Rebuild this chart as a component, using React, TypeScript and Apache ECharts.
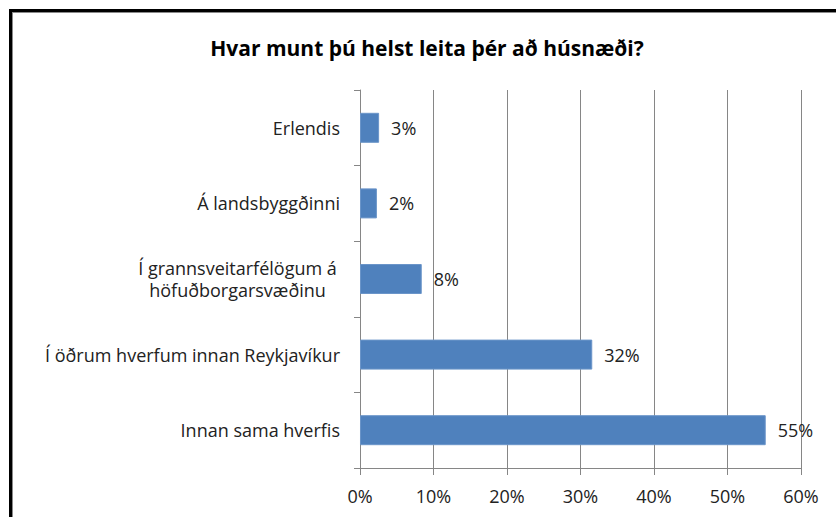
import React, { useEffect, useRef } from "react";
import * as echarts from "echarts";

const titleText = "Hvar munt þú helst leita þér að húsnæði?";
const categories = [
  "Erlendis",
  "Á landsbyggðinni",
  "Í grannsveitarfélögum á\nhöfuðborgarsvæðinu",
  "Í öðrum hverfum innan Reykjavíkur",
  "Innan sama hverfis",
];
const values = [2.6, 2.3, 8.4, 31.6, 55.2];
const axisMin = 0;
const axisMax = 60;
const axisInterval = 10;

const FONT = "Open Sans";

export default function App() {
  const ref = useRef<HTMLDivElement>(null);
  useEffect(() => {
    if (!ref.current) return;
    const chart = echarts.init(ref.current, null, { renderer: "svg" });
    chart.setOption({
      animation: false,
      backgroundColor: "#ffffff",
      title: {
        text: titleText,
        left: 422,
        top: 32,
        textAlign: "center",
        textStyle: { fontFamily: FONT, fontSize: 21, fontWeight: "bold", color: "#000" },
      },
      graphic: [
        { type: "rect", shape: { x: 9, y: 9, width: 827, height: 3 }, style: { fill: "#000" }, z: 10 },
        { type: "rect", shape: { x: 9, y: 9, width: 3, height: 508 }, style: { fill: "#000" }, z: 10 },
        { type: "rect", shape: { x: 12, y: 12, width: 824, height: 1 }, style: { fill: "#8a8a8a" }, z: 10 },
        { type: "rect", shape: { x: 12, y: 12, width: 1, height: 505 }, style: { fill: "#8a8a8a" }, z: 10 },
      ],
      grid: { left: 360, right: 35, top: 90, bottom: 49, containLabel: false },
      xAxis: {
        type: "value",
        min: axisMin,
        max: axisMax,
        interval: axisInterval,
        axisLine: { show: true, lineStyle: { color: "#868686", width: 1 } },
        axisTick: { show: true, length: 7, lineStyle: { color: "#868686" } },
        splitLine: { show: true, lineStyle: { color: "#868686", width: 1 } },
        axisLabel: {
          formatter: "{value}%",
          margin: 19,
          fontFamily: FONT,
          fontSize: 18,
          color: "#222",
        },
      },
      yAxis: {
        type: "category",
        inverse: true,
        data: categories,
        axisLine: { show: true, lineStyle: { color: "#868686", width: 1 } },
        axisTick: { show: true, length: 6, lineStyle: { color: "#868686" } },
        axisLabel: {
          margin: 20,
          fontFamily: FONT,
          fontSize: 18,
          color: "#222",
          lineHeight: 22,
          formatter: (v: string) =>
            v.includes("\n") ? v.split("\n").map((l) => `{c|${l}}`).join("\n") : v,
          rich: {
            c: {
              width: 205,
              align: "center",
              fontFamily: FONT,
              fontSize: 18,
              color: "#222",
              lineHeight: 22,
            },
          },
        },
      },
      series: [
        {
          type: "bar",
          data: values,
          barWidth: 30,
          itemStyle: { color: "#4F81BD", borderColor: "#6b95c9", borderWidth: 1 },
          label: {
            show: true,
            position: "right",
            distance: 12,
            fontFamily: FONT,
            fontSize: 18,
            color: "#222",
            formatter: (p: any) => Math.round(p.value) + "%",
          },
        },
      ],
    });
    return () => chart.dispose();
  }, []);
  return <div ref={ref} style={{ position: "absolute", left: 0, top: 0, width: 836, height: 517 }} />;
}
